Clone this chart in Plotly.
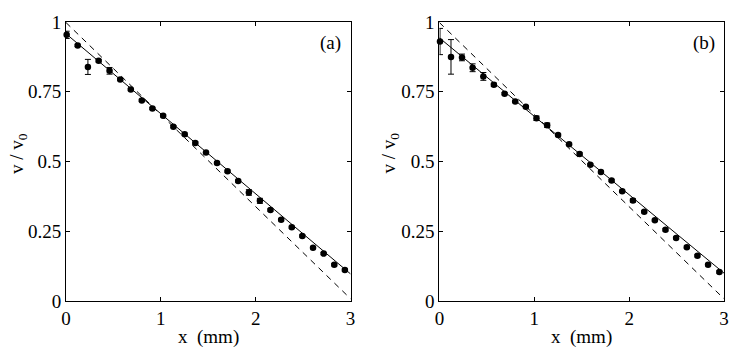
import plotly.graph_objects as go
from plotly.subplots import make_subplots

# panel (a) measurements
x_a = [0.007, 0.123, 0.231, 0.344, 0.459, 0.572, 0.683, 0.799, 0.911, 1.024,
       1.132, 1.251, 1.363, 1.476, 1.592, 1.703, 1.815, 1.928, 2.044, 2.155,
       2.268, 2.380, 2.491, 2.604, 2.716, 2.828, 2.940]
v_a = [0.954, 0.916, 0.839, 0.861, 0.825, 0.794, 0.758, 0.719, 0.690, 0.664,
       0.625, 0.598, 0.566, 0.532, 0.495, 0.465, 0.430, 0.389, 0.359, 0.326,
       0.291, 0.264, 0.233, 0.191, 0.170, 0.130, 0.111]
err_a = [0.013, 0.004, 0.027, 0.004, 0.012, 0.004, 0.004, 0.004, 0.004, 0.004,
         0.004, 0.004, 0.004, 0.004, 0.004, 0.004, 0.004, 0.010, 0.009, 0.004,
         0.004, 0.004, 0.004, 0.004, 0.004, 0.004, 0.004]

# panel (b) measurements
x_b = [0.006, 0.122, 0.238, 0.350, 0.463, 0.574, 0.687, 0.799, 0.911, 1.023,
       1.136, 1.251, 1.367, 1.478, 1.591, 1.703, 1.815, 1.927, 2.040, 2.159,
       2.271, 2.383, 2.495, 2.608, 2.720, 2.832, 2.951]
v_b = [0.930, 0.875, 0.873, 0.836, 0.805, 0.775, 0.743, 0.715, 0.696, 0.655,
       0.630, 0.595, 0.562, 0.527, 0.488, 0.462, 0.432, 0.393, 0.360, 0.320,
       0.289, 0.255, 0.226, 0.193, 0.162, 0.130, 0.104]
err_b = [0.047, 0.062, 0.012, 0.014, 0.014, 0.006, 0.004, 0.004, 0.004, 0.008,
         0.008, 0.004, 0.004, 0.004, 0.004, 0.004, 0.004, 0.004, 0.006, 0.004,
         0.004, 0.004, 0.004, 0.004, 0.004, 0.004, 0.004]

# model curves
line_x = [0, 3]
solid_a = [0.958, 0.097]
dashed_a = [0.998, 0.008]
solid_b = [0.943, 0.100]
dashed_b = [0.998, 0.008]

x_ticks = [0, 1, 2, 3]
y_ticks = [0, 0.25, 0.5, 0.75, 1]
y_tick_text = ["0", "0.25", "0.5", "0.75", "1"]

FONT = "Liberation Serif, Times New Roman, serif"

fig = make_subplots(rows=1, cols=2, horizontal_spacing=0.135)

panels = [(x_a, v_a, err_a, solid_a, dashed_a), (x_b, v_b, err_b, solid_b, dashed_b)]
for i, (xs, vs, es, sol, dash) in enumerate(panels, start=1):
    fig.add_trace(go.Scatter(x=line_x, y=dash, mode="lines",
                             line=dict(color="black", width=1, dash="6px,5px")),
                  row=1, col=i)
    fig.add_trace(go.Scatter(x=line_x, y=sol, mode="lines",
                             line=dict(color="black", width=1)),
                  row=1, col=i)
    fig.add_trace(go.Scatter(x=xs, y=vs, mode="markers", cliponaxis=False,
                             marker=dict(color="black", size=6.5),
                             error_y=dict(type="data", array=es, color="black",
                                          thickness=1, width=3)),
                  row=1, col=i)

axis_style = dict(showgrid=False, zeroline=False, showline=True, linecolor="black",
                  linewidth=1, mirror="ticks", ticks="inside", ticklen=4,
                  tickcolor="black", tickfont=dict(family=FONT, size=19, color="black"))

fig.update_xaxes(range=[0, 3], tickvals=x_ticks, **axis_style)
fig.update_yaxes(range=[0, 1], tickvals=y_ticks, ticktext=y_tick_text, **axis_style)

ann = []
for xc, yc in [(0.216, -0.13), (0.784, -0.13)]:
    ann.append(dict(text="x  (mm)", x=xc, y=yc, xref="paper", yref="paper",
                    showarrow=False, xanchor="center", yanchor="middle",
                    font=dict(family=FONT, size=19, color="black")))
for xc in [-0.073, 0.493]:
    ann.append(dict(text="v / v<sub>0</sub>", x=xc, y=0.53, xref="paper", yref="paper",
                    textangle=-90, showarrow=False, xanchor="center", yanchor="middle",
                    font=dict(family=FONT, size=19, color="black")))
for lbl, xr, yr in [("(a)", "x domain", "y domain"), ("(b)", "x2 domain", "y2 domain")]:
    ann.append(dict(text=lbl, x=0.975, y=0.97, xref=xr, yref=yr, showarrow=False,
                    xanchor="right", yanchor="top",
                    font=dict(family=FONT, size=19, color="black")))

fig.update_layout(width=741, height=347, showlegend=False,
                  margin=dict(l=66, r=15, t=16, b=46),
                  plot_bgcolor="white", paper_bgcolor="white",
                  annotations=ann)

fig.write_html("out.html", config={"displayModeBar": False},
               post_script="document.body.style.margin='0';")
